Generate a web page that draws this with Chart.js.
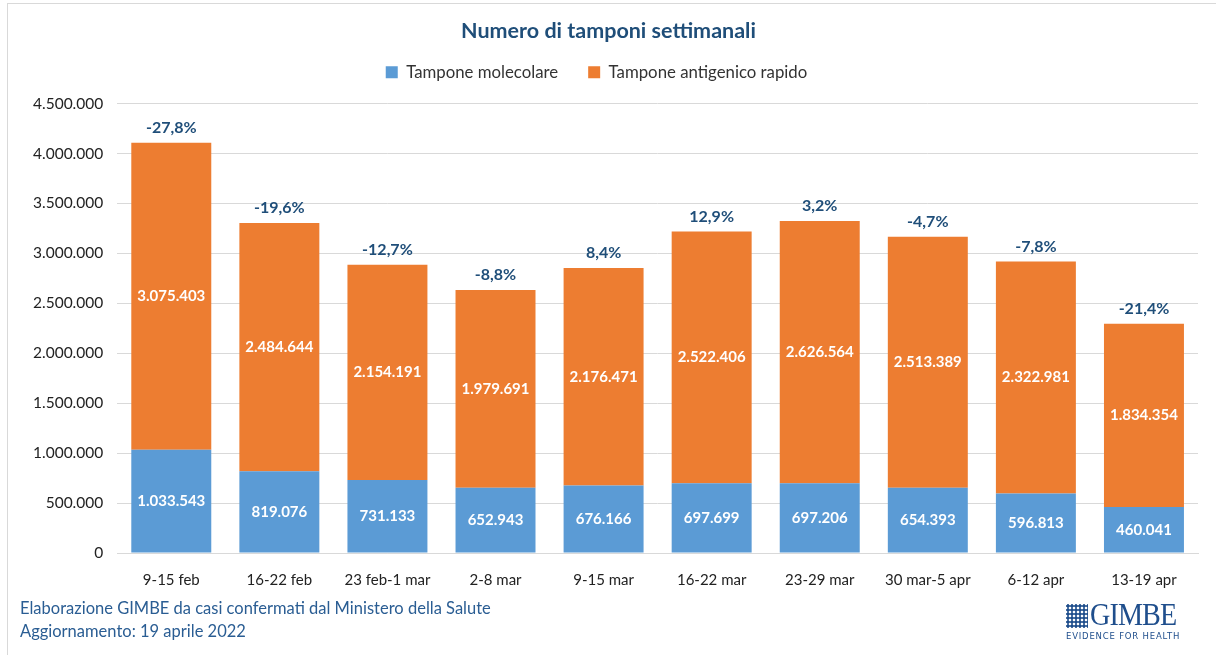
<!DOCTYPE html>
<html lang="it">
<head>
<meta charset="utf-8">
<title>Numero di tamponi settimanali</title>
<style>
  body { margin: 0; background: #fff; }
  #wrap { position: relative; width: 1216px; height: 655px; overflow: hidden; }
  #frame { position: absolute; left: 7px; top: 3px; width: 1300px; height: 700px;
           border-left: 1px solid #d9d9d9; border-top: 1px solid #d9d9d9; }
  #chart { position: absolute; left: 0; top: 0; }
  .foot { position: absolute; left: 20px; font-family: Lato, "Open Sans", sans-serif;
          font-size: 16.5px; color: #2a5d93; }
  #logo { position: absolute; left: 1066px; top: 603px; width: 120px; }
  #logo .grid { position: absolute; left: 0; top: 1px; width: 22px; height: 24px;
                background-image: radial-gradient(circle, #1f4e8c 55%, transparent 60%);
                background-size: 4px 4px; }
  #logo .name { position: absolute; left: 24px; top: -7px; font-family: "Liberation Serif", serif;
                font-size: 32px; color: #1f4e8c; letter-spacing: -1px; transform: scaleX(0.88);
                transform-origin: left; }
  #logo .sub { position: absolute; left: 0; top: 28px; font-family: "DejaVu Sans", sans-serif;
               font-size: 8.5px; letter-spacing: 0.8px; color: #1f4e8c; white-space: nowrap; }
</style>
</head>
<body>
<div id="wrap">
  <div id="frame"></div>
  <canvas id="chart" width="1216" height="655"></canvas>
  <div class="foot" style="top:598px">Elaborazione GIMBE da casi confermati dal Ministero della Salute</div>
  <div class="foot" style="top:621px">Aggiornamento: 19 aprile 2022</div>
  <div id="logo"><div class="grid"></div><div class="name">GIMBE</div><div class="sub">EVIDENCE FOR HEALTH</div></div>
</div>

<script src="https://cdn.jsdelivr.net/npm/chart.js"></script>
<script>

  var settimane = ["9-15 feb", "16-22 feb", "23 feb-1 mar", "2-8 mar", "9-15 mar",
                   "16-22 mar", "23-29 mar", "30 mar-5 apr", "6-12 apr", "13-19 apr"];
  var molecolare = [1033543, 819076, 731133, 652943, 676166, 697699, 697206, 654393, 596813, 460041];
  var antigenico = [3075403, 2484644, 2154191, 1979691, 2176471, 2522406, 2626564, 2513389, 2322981, 1834354];
  var variazione = ["-27,8%", "-19,6%", "-12,7%", "-8,8%", "8,4%", "12,9%", "3,2%", "-4,7%", "-7,8%", "-21,4%"];

  var FONT = "Lato, 'Open Sans', sans-serif";

  function puntini(n) {
    return String(Math.round(n)).replace(/\B(?=(\d{3})+(?!\d))/g, ".");
  }

  // etichette dentro le barre + variazione percentuale sopra
  var etichette = {
    id: "etichette",
    afterDatasetsDraw: function(chart) {
      var ctx = chart.ctx;
      ctx.save();
      ctx.textAlign = "center";
      ctx.textBaseline = "middle";
      ctx.font = "bold 15px " + FONT;
      ctx.fillStyle = "#ffffff";
      chart.data.datasets.forEach(function(ds, i) {
        chart.getDatasetMeta(i).data.forEach(function(bar, j) {
          var y = (bar.y + bar.base) / 2;
          ctx.fillText(puntini(ds.data[j]), bar.x, y);
        });
      });
      var top = chart.getDatasetMeta(1).data;
      ctx.fillStyle = "#1f4e79";
      ctx.font = "bold 16px " + FONT;
      top.forEach(function(bar, j) {
        ctx.fillText(variazione[j], bar.x, bar.y - 15);
      });
      ctx.restore();
    }
  };

  // piu spazio sotto la legenda, e legenda un po' spostata a sinistra
  var spazioLegenda = {
    id: "spazioLegenda",
    beforeInit: function(chart) {
      var fit = chart.legend.fit;
      chart.legend.fit = function() {
        fit.bind(chart.legend)();
        this.height += 13;
      };
    },
    afterLayout: function(chart) {
      chart.legend.left -= 12;
      chart.legend.right -= 12;
    }
  };

  new Chart(document.getElementById("chart"), {
    type: "bar",
    data: {
      labels: settimane,
      datasets: [
        { label: "Tampone molecolare", data: molecolare, backgroundColor: "#5b9bd5" },
        { label: "Tampone antigenico rapido", data: antigenico, backgroundColor: "#ed7d31" }
      ]
    },
    options: {
      responsive: false,
      animation: false,
      layout: { padding: { left: 19, right: 18, top: 6, bottom: 56 } },
      datasets: { bar: { categoryPercentage: 1, barPercentage: 0.74 } },
      plugins: {
        title: {
          display: true,
          text: "Numero di tamponi settimanali",
          color: "#1f4e79",
          font: { family: FONT, size: 21.5, weight: "bold" },
          padding: { top: 12, bottom: -10 }
        },
        legend: {
          position: "top",
          labels: {
            color: "#333",
            font: { family: FONT, size: 16.8 },
            boxWidth: 12, boxHeight: 12,
            padding: 30
          }
        },
        tooltip: { enabled: false }
      },
      scales: {
        x: {
          stacked: true,
          grid: { display: false },
          border: { color: "#d9d9d9" },
          ticks: { color: "#222", font: { family: FONT, size: 15 }, padding: 10 }
        },
        y: {
          stacked: true,
          min: 0, max: 4500000,
          grid: { color: "#d9d9d9", drawTicks: false },
          border: { display: false },
          ticks: {
            stepSize: 500000,
            color: "#222",
            font: { family: FONT, size: 15.5 },
            padding: 14,
            callback: function(v) { return puntini(v); }
          }
        }
      }
    },
    plugins: [etichette, spazioLegenda]
  });

</script>
</body>
</html>
